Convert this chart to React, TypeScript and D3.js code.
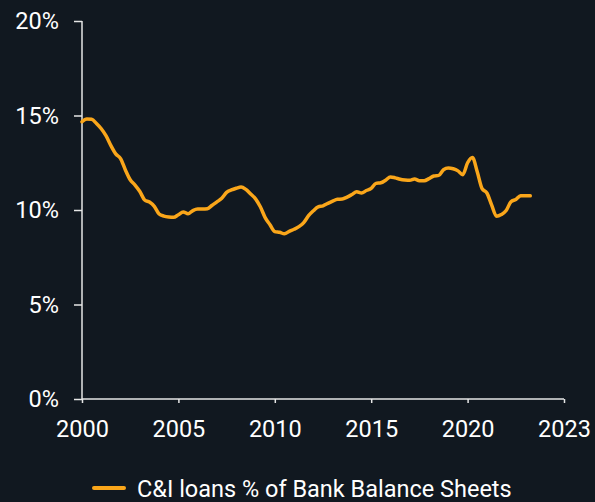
import { useEffect, useRef } from 'react';
import * as d3 from 'd3';

// quarterly observations starting 2000 Q1
const startYear = 2000;
const ciLoansPct = [
  14.67, 14.82, 14.8, 14.58, 14.3, 13.92, 13.41, 12.97, 12.72, 12.12,
  11.6, 11.32, 10.98, 10.53, 10.42, 10.19, 9.79, 9.68, 9.63, 9.61,
  9.75, 9.9, 9.8, 9.97, 10.05, 10.05, 10.07, 10.25, 10.43, 10.62,
  10.93, 11.06, 11.15, 11.22, 11.09, 10.85, 10.59, 10.17, 9.6, 9.22,
  8.86, 8.82, 8.74, 8.87, 8.98, 9.12, 9.33, 9.7, 9.96, 10.17,
  10.22, 10.35, 10.47, 10.57, 10.58, 10.68, 10.82, 10.97, 10.9, 11.03,
  11.14, 11.41, 11.44, 11.58, 11.75, 11.7, 11.63, 11.59, 11.57, 11.64,
  11.55, 11.55, 11.66, 11.8, 11.83, 12.13, 12.22, 12.18, 12.07, 11.87,
  12.5, 12.78, 12.02, 11.13, 10.9, 10.26, 9.67, 9.76, 9.97, 10.44,
  10.56, 10.75, 10.76, 10.75,
];

const xTickValues = [2000, 2005, 2010, 2015, 2020, 2025];
const xTickLabels = ['2000', '2005', '2010', '2015', '2020', '2023'];
const yTickValues = [0, 5, 10, 15, 20];
const seriesName = 'C&I loans % of Bank Balance Sheets';

const WIDTH = 595;
const HEIGHT = 502;
const BG = '#111820';
const LINE = '#FAA61A';
const AXIS = '#e6e6e6';
const FONT = 'Roboto, "Noto Sans", sans-serif';
const FONT_SIZE = 23.5;

export default function App() {
  const svgRef = useRef<SVGSVGElement | null>(null);

  useEffect(() => {
    if (!svgRef.current) return;
    const svg = d3.select(svgRef.current);
    svg.selectAll('*').remove();

    const margin = { top: 21, right: 31, bottom: 103, left: 82 };
    const innerW = WIDTH - margin.left - margin.right;
    const innerH = HEIGHT - margin.top - margin.bottom;

    svg.append('rect').attr('width', WIDTH).attr('height', HEIGHT).attr('fill', BG);

    const g = svg.append('g').attr('transform', `translate(${margin.left},${margin.top})`);

    const x = d3.scaleLinear().domain([2000, 2025]).range([0, innerW]);
    const y = d3.scaleLinear().domain([0, 20]).range([innerH, 0]);

    const data = ciLoansPct.map((v, i) => ({ t: startYear + i * 0.25, v }));

    // y axis
    const yAxis = g.append('g')
      .call(d3.axisLeft(y).tickValues(yTickValues).tickSize(8).tickPadding(15).tickFormat(d => `${d}%`));
    yAxis.select('.domain').attr('stroke', AXIS).attr('stroke-width', 1.5).attr('d', `M0,0V${innerH}`);
    yAxis.selectAll('.tick line').attr('stroke', AXIS).attr('stroke-width', 1.5);
    yAxis.selectAll('.tick text')
      .attr('fill', '#ffffff')
      .attr('font-family', FONT)
      .attr('font-size', FONT_SIZE);

    // x axis
    const xAxis = g.append('g')
      .attr('transform', `translate(0,${innerH})`)
      .call(d3.axisBottom(x).tickValues(xTickValues).tickSize(4).tickPadding(17)
        .tickFormat((d, i) => xTickLabels[i]));
    xAxis.select('.domain').attr('stroke', AXIS).attr('stroke-width', 1.5).attr('d', `M0,0H${innerW}`);
    xAxis.selectAll('.tick line').attr('stroke', AXIS).attr('stroke-width', 1.5);
    xAxis.selectAll('.tick text')
      .attr('fill', '#ffffff')
      .attr('font-family', FONT)
      .attr('font-size', FONT_SIZE);

    // series line
    const line = d3.line<{ t: number; v: number }>()
      .x(d => x(d.t))
      .y(d => y(d.v))
      .curve(d3.curveMonotoneX);

    g.append('path')
      .datum(data)
      .attr('fill', 'none')
      .attr('stroke', LINE)
      .attr('stroke-width', 3.5)
      .attr('stroke-linejoin', 'round')
      .attr('stroke-linecap', 'round')
      .attr('d', line);

    // legend
    const legend = svg.append('g').attr('transform', 'translate(0,489)');
    legend.append('line')
      .attr('x1', 94).attr('x2', 124)
      .attr('y1', -1).attr('y2', -1)
      .attr('stroke', LINE)
      .attr('stroke-width', 4)
      .attr('stroke-linecap', 'round');
    legend.append('text')
      .attr('x', 137)
      .attr('y', 0)
      .attr('dy', '0.35em')
      .attr('fill', '#ffffff')
      .attr('font-family', FONT)
      .attr('font-size', FONT_SIZE)
      .text(seriesName);
  }, []);

  return (
    <svg
      ref={svgRef}
      width={WIDTH}
      height={HEIGHT}
      style={{ position: 'absolute', left: 0, top: 0, display: 'block' }}
    />
  );
}
